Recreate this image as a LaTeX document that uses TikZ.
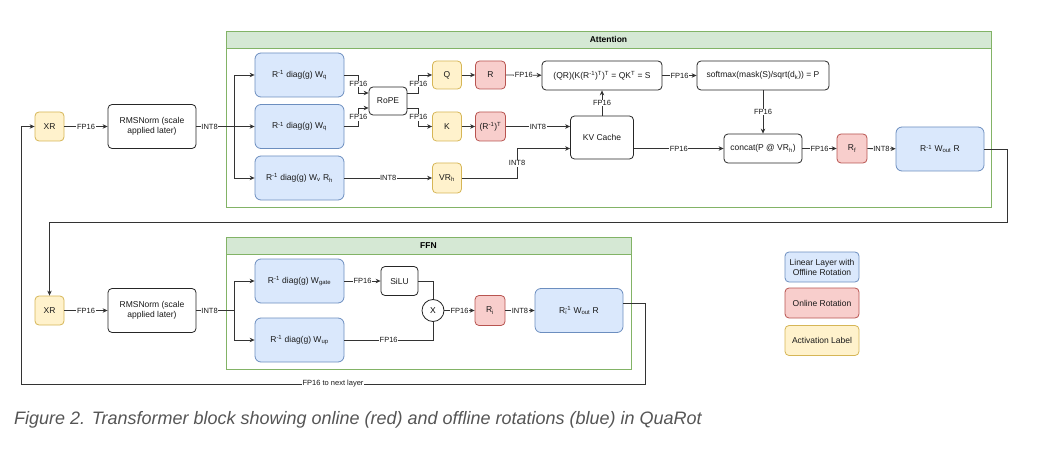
\documentclass[tikz,border=0pt]{standalone}
\usepackage{fontspec}
\setmainfont{Liberation Sans}
\usetikzlibrary{arrows.meta}

\definecolor{linfill}{HTML}{DAE8FC}
\definecolor{linline}{HTML}{6C8EBF}
\definecolor{rotfill}{HTML}{F8CECC}
\definecolor{rotline}{HTML}{B85450}
\definecolor{actfill}{HTML}{FFF2CC}
\definecolor{actline}{HTML}{D6B656}
\definecolor{grpfill}{HTML}{D5E8D4}
\definecolor{grpline}{HTML}{82B366}
\definecolor{capgray}{HTML}{555555}

\begin{document}
\begin{tikzpicture}[x=1pt, y=-1pt,
  box/.style={draw=black!85, line width=0.8pt, rounded corners=4pt, align=center,
    inner sep=1pt, text=black!90, font=\fontsize{8.5}{10}\selectfont},
  opbox/.style={box, fill=white},
  linbox/.style={box, draw=linline, fill=linfill, rounded corners=6pt,
    minimum width=89pt, minimum height=44pt},
  rotbox/.style={box, draw=rotline, fill=rotfill, minimum width=30pt, minimum height=29pt},
  actbox/.style={box, draw=actline, fill=actfill, minimum width=29pt, minimum height=29pt},
  legbox/.style={minimum width=74pt, minimum height=30pt},
  lbl/.style={fill=white, inner sep=0.6pt, text=black!90, font=\fontsize{7.5}{8}\selectfont},
  wire/.style={draw=black!80, line width=0.8pt},
  arr/.style={wire, -{Stealth[length=5pt,width=4.5pt]}},
  grp/.style={draw=grpline, line width=0.8pt},
]
\useasboundingbox (0,0) rectangle (1062,449);

% containers
\draw[grp, fill=grpfill] (226,31) rectangle (991,48);
\draw[grp] (226,48) rectangle (991,207);
\node[font=\bfseries\fontsize{8.5}{10}\selectfont] (atttitle) at (608.5,39.5) {Attention};

\draw[grp, fill=grpfill] (226,237) rectangle (631,254);
\draw[grp] (226,254) rectangle (631,369);
\node[font=\bfseries\fontsize{8.5}{10}\selectfont] (ffntitle) at (428.5,245.5) {FFN};

% attention row
\node[actbox] (xr1) at (49.5,126.5) {XR};
\node[opbox, minimum width=88pt, minimum height=44pt] (rms1) at (152,126.5) {RMSNorm (scale\\applied later)};
\coordinate (split1) at (234,126.5);

\node[linbox] (wq) at (299.5,75) {R\textsuperscript{-1} diag(g) W\textsubscript{q}};
\node[linbox] (wk) at (299.5,126.5) {R\textsuperscript{-1} diag(g) W\textsubscript{q}};
\node[linbox] (wv) at (299.5,178) {R\textsuperscript{-1} diag(g) W\textsubscript{v} R\textsubscript{h}};

\node[opbox, minimum width=38pt, minimum height=28pt] (rope) at (388,101) {RoPE};
\node[actbox, minimum height=28pt] (q) at (447,75) {Q};
\node[actbox] (k) at (447,126.5) {K};
\node[actbox, minimum height=30pt] (vrh) at (447,178) {VR\textsubscript{h}};
\node[rotbox, minimum height=28pt] (r) at (490.5,75) {R};
\node[rotbox] (rinvt) at (490.5,126.5) {(R\textsuperscript{-1})\textsuperscript{T}};

\node[opbox, minimum width=120pt, minimum height=29pt] (qk) at (602,75.5)
  {(QR)(K(R\textsuperscript{-1})\textsuperscript{T})\textsuperscript{T} = QK\textsuperscript{T} = S};
\node[opbox, minimum width=63pt, minimum height=43pt] (kv) at (602,137.5) {KV Cache};
\node[opbox, minimum width=132pt, minimum height=29pt] (soft) at (763,75.5)
  {softmax(mask(S)/sqrt(d\textsubscript{k})) = P};
\node[opbox, minimum width=78pt, minimum height=29pt] (cat) at (763,148.5) {concat(P @ VR\textsubscript{h})};
\node[rotbox] (rf) at (852,148.5) {R\textsubscript{f}};
\node[linbox, minimum width=88pt] (wout) at (940,149) {R\textsuperscript{-1} W\textsubscript{out} R};

% ffn row
\node[actbox] (xr2) at (49.5,310.5) {XR};
\node[opbox, minimum width=88pt, minimum height=44pt] (rms2) at (152,310.5) {RMSNorm (scale\\applied later)};
\coordinate (split2) at (234,310.5);

\node[linbox] (wg) at (299.5,281) {R\textsuperscript{-1} diag(g) W\textsubscript{gate}};
\node[linbox] (wu) at (299.5,340) {R\textsuperscript{-1} diag(g) W\textsubscript{up}};
\node[opbox, minimum width=37pt, minimum height=29pt] (silu) at (399.5,281) {SiLU};
\node[draw=black!85, line width=0.8pt, circle, fill=white, minimum size=22pt, inner sep=0pt,
  font=\fontsize{8.5}{10}\selectfont] (mul) at (433,310.5) {X};
\node[rotbox, minimum height=30pt] (ri) at (490,310.5) {R\textsubscript{i}};
\node[linbox, minimum width=88pt] (wout2) at (579,310.5)
  {R\rlap{\textsubscript{i}}\textsuperscript{-1} W\textsubscript{out} R};

% legend
\node[box, draw=linline, fill=linfill, legbox] (leglin) at (822,267) {Linear Layer with\\Offline Rotation};
\node[box, draw=rotline, fill=rotfill, legbox] (legrot) at (822,303) {Online Rotation};
\node[box, draw=actline, fill=actfill, legbox] (legact) at (822,340.5) {Activation Label};

\node[anchor=base west, inner sep=0pt, text=capgray, font=\itshape\fontsize{18}{20}\selectfont]
  (caption) at (14,424) {Figure 2. Transformer block showing online (red) and offline rotations (blue) in QuaRot};

% attention wires
\draw[arr] (xr1) -- node[lbl] {FP16} (rms1);
\draw[wire] (rms1) -- node[lbl, pos=0.35] {INT8} (split1);
\draw[arr] (split1) |- (wq.west);
\draw[arr] (split1) -- (wk.west);
\draw[arr] (split1) |- (wv.west);

\draw[arr] (wq.east) -- ++(14,0) |- node[lbl, pos=0.25] {FP16} ([yshift=8pt]rope.west);
\draw[arr] (wk.east) -- ++(14,0) |- node[lbl, pos=0.25] {FP16} ([yshift=-7pt]rope.west);
\draw[arr] ([yshift=8pt]rope.east) -- ++(11,0) |- node[lbl, pos=0.25] {FP16} (q.west);
\draw[arr] ([yshift=-7pt]rope.east) -- ++(11,0) |- node[lbl, pos=0.25] {FP16} (k.west);
\draw[arr] (q) -- (r);
\draw[arr] (k) -- (rinvt);
\draw[arr] (r) -- node[lbl] {FP16} (qk);
\draw[arr] (rinvt.east) -- node[lbl] {INT8} (rinvt.east -| kv.west);
\draw[arr] (wv) -- node[lbl] {INT8} (vrh);
\draw[arr] (vrh.east) -| node[lbl, pos=0.75] {INT8} ([xshift=-53pt, yshift=-11pt]kv.west)
  -- ([yshift=-11pt]kv.west);
\draw[arr] (kv) -- node[lbl] {FP16} (qk);
\draw[arr] (qk) -- node[lbl] {FP16} (soft);
\draw[arr] (soft) -- node[lbl] {FP16} (cat);
\draw[arr] ([yshift=-11pt]kv.east) -- node[lbl] {FP16} (cat.west);
\draw[arr] (cat) -- node[lbl] {FP16} (rf);
\draw[arr] (rf) -- node[lbl] {INT8} (wout);

\coordinate (wrap) at (1007,222);
\draw[arr] (wout.east) -| (wrap) -| (xr2.north);

% ffn wires
\draw[arr] (xr2) -- node[lbl] {FP16} (rms2);
\draw[wire] (rms2) -- node[lbl, pos=0.35] {INT8} (split2);
\draw[arr] (split2) |- (wg.west);
\draw[arr] (split2) |- (wu.west);
\draw[arr] (wg) -- node[lbl] {FP16} (silu);
\draw[wire] (silu.east) -| (mul.north);
\draw[wire] (wu.east) -| node[lbl, pos=0.25] {FP16} (mul.south);
\draw[arr] (mul) -- node[lbl] {FP16} (ri);
\draw[arr] (ri) -- node[lbl] {INT8} (wout2);

\coordinate (loopa) at (645,384);
\coordinate (loopb) at (21,384);
\draw[arr] ([yshift=7.5pt]wout2.east) -| (loopa) -- node[lbl] {FP16 to next layer} (loopb) |- (xr1.west);
\end{tikzpicture}
\end{document}
